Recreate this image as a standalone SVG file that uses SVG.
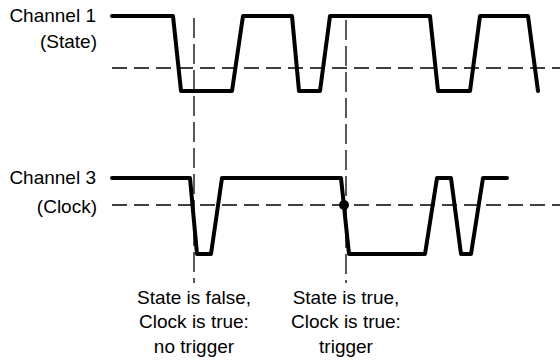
<svg xmlns="http://www.w3.org/2000/svg" width="560" height="363" viewBox="0 0 560 363">
<style>
.t{font-family:"Liberation Sans",Arial,sans-serif;font-size:19px;fill:#000}
.wave{fill:none;stroke:#000;stroke-width:4;stroke-linejoin:round;stroke-linecap:round}
.th{stroke:#000;stroke-width:1.5;stroke-dasharray:15 7;fill:none}
.vl{stroke:#000;stroke-width:1.3;stroke-dasharray:20 6;fill:none}
</style>
<rect width="560" height="363" fill="#fff"/>
<g id="connectors">
<line class="th" x1="112" y1="68" x2="560" y2="68"/>
<line class="th" x1="112" y1="205" x2="560" y2="205"/>
<line class="vl" x1="194" y1="18" x2="194" y2="283"/>
<line class="vl" x1="346" y1="20" x2="346" y2="283"/>
</g>
<g id="channel1">
<text class="t" x="96" y="22" text-anchor="end">Channel 1</text>
<text class="t" x="97" y="48" text-anchor="end">(State)</text>
<polyline class="wave" points="112,16 173,16 181,91 232,91 243,16 292,16 299,91 320,91 330,16 430,16 438,91 470,91 480,16 528,16 538,91"/>
</g>
<g id="channel3">
<text class="t" x="96" y="184" text-anchor="end">Channel 3</text>
<text class="t" x="97" y="213" text-anchor="end">(Clock)</text>
<polyline class="wave" points="112,178 190,178 197,254 211,254 222,178 341,178 349,254 425,254 437,178 451,178 461,254 471,254 483,178 507,178"/>
<circle cx="344" cy="205" r="5" fill="#000"/>
</g>
<g id="label-left">
<text class="t" x="194" y="304" text-anchor="middle">State is false,</text>
<text class="t" x="194" y="328" text-anchor="middle">Clock is true:</text>
<text class="t" x="194" y="353" text-anchor="middle">no trigger</text>
</g>
<g id="label-right">
<text class="t" x="346" y="304" text-anchor="middle">State is true,</text>
<text class="t" x="346" y="328" text-anchor="middle">Clock is true:</text>
<text class="t" x="346" y="353" text-anchor="middle">trigger</text>
</g>
</svg>
